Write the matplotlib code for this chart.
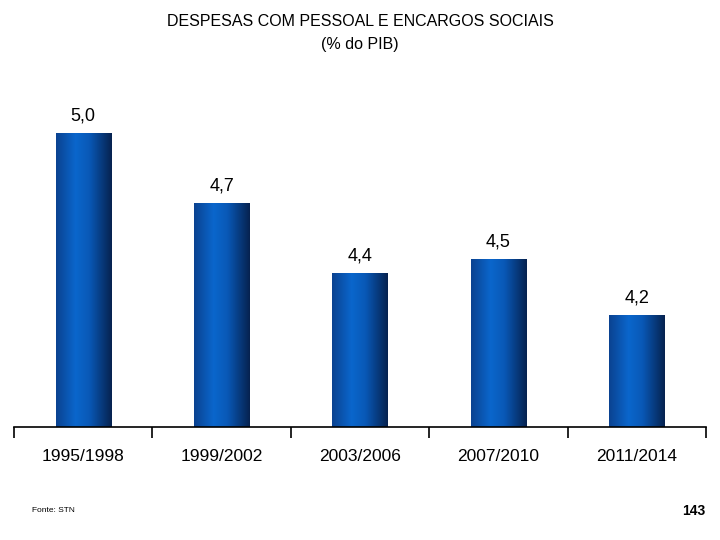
import numpy as np
import matplotlib
matplotlib.use("Agg")
import matplotlib.pyplot as plt
from matplotlib.colors import LinearSegmentedColormap

periods = ["1995/1998", "1999/2002", "2003/2006", "2007/2010", "2011/2014"]
values = [5.0, 4.7, 4.4, 4.46, 4.22]

plt.rcParams["font.family"] = ["Liberation Sans", "DejaVu Sans"]

fig = plt.figure(figsize=(7.2, 5.4), dpi=100)
ax = fig.add_axes([14 / 720, 1 - 427 / 540, 692 / 720, 327 / 540])

x = np.arange(len(periods))
bars = ax.bar(x, values, width=0.4, facecolor="none", edgecolor="none")

cmap = LinearSegmentedColormap.from_list(
    "barblue",
    [(0.0, "#0b4290"), (0.35, "#0a66cc"), (0.6, "#0958b6"), (1.0, "#06224f")],
)
grad = np.linspace(0, 1, 256).reshape(1, -1)
ymin = 3.74
for bar, v in zip(bars, values):
    x0 = bar.get_x()
    w = bar.get_width()
    im = ax.imshow(grad, cmap=cmap, extent=(x0, x0 + w, ymin, v),
                   aspect="auto", origin="lower", zorder=2)
    im.set_clip_path(bar)
    ax.text(x0 + w / 2, v + 0.035, f"{v:.1f}".replace(".", ","),
            ha="center", va="bottom", fontsize=13)

ax.set_xlim(-0.5, len(periods) - 0.5)
ax.set_ylim(ymin, ymin + 327 / 233.3)

for s in ["top", "left", "right"]:
    ax.spines[s].set_visible(False)
ax.spines["bottom"].set_linewidth(1.2)
ax.set_yticks([])
ax.set_xticks(x)
ax.set_xticklabels(periods, fontsize=12.5)
ax.tick_params(axis="x", which="major", length=0, pad=16)
ax.set_xticks(np.arange(len(periods) + 1) - 0.5, minor=True)
ax.tick_params(axis="x", which="minor", length=8, width=1.2, direction="out")

fig.text(0.5, 1 - 22 / 540, "DESPESAS COM PESSOAL E ENCARGOS SOCIAIS",
         ha="center", va="center", fontsize=11.5)
fig.text(0.5, 1 - 44 / 540, "(% do PIB)", ha="center", va="center", fontsize=11.5)
fig.text(32 / 720, 1 - 511 / 540, "Fonte: STN", ha="left", va="center", fontsize=6)
fig.text(705 / 720, 1 - 511 / 540, "143", ha="right", va="center",
         fontsize=10, fontweight="bold")

fig.savefig("out.png", dpi=100)
